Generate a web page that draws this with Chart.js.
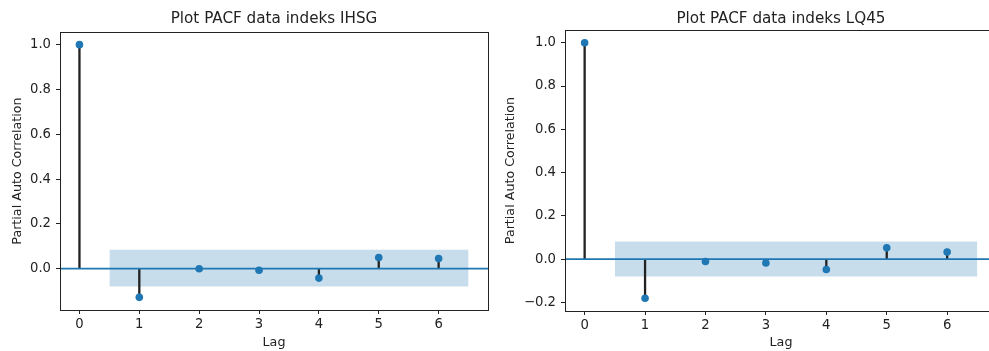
<!DOCTYPE html>
<html>
<head>
<meta charset="utf-8">
<title>Plot PACF IHSG & LQ45</title>
<script src="https://cdn.jsdelivr.net/npm/chart.js@4.4.1/dist/chart.umd.min.js"></script>
<style>
  html, body { margin: 0; padding: 0; background: #fff; overflow: hidden; width: 989px; height: 351px; }
  .panel { position: absolute; top: 0; height: 351px; overflow: hidden; }
  #panel-ihsg { left: 0; width: 495px; }
  #panel-lq45 { left: 495px; width: 494px; }
  canvas { display: block; }
</style>
</head>
<body>
<div class="panel" id="panel-ihsg"><canvas id="pacf-ihsg" width="495" height="351"></canvas></div>
<div class="panel" id="panel-lq45"><canvas id="pacf-lq45" width="515" height="351"></canvas></div>
<script>
// data
const lags = [0, 1, 2, 3, 4, 5, 6];
const xTicks = [0, 1, 2, 3, 4, 5, 6];
const bandLags = [0.5, 6.5];

const pacfIHSG = [1.0, -0.128, 0.0, -0.007, -0.042, 0.050, 0.045];
const confIHSG = [-0.080, 0.084];
const yTicksIHSG = [0.0, 0.2, 0.4, 0.6, 0.8, 1.0];

const pacfLQ45 = [1.0, -0.181, -0.011, -0.018, -0.048, 0.052, 0.033];
const confLQ45 = [-0.080, 0.081];
const yTicksLQ45 = [-0.2, 0.0, 0.2, 0.4, 0.6, 0.8, 1.0];

const C0 = '#1f77b4';
const INK = '#222';
const FONT = { family: 'DejaVu Sans', size: 12.7 };
const TICK_FONT = { family: 'DejaVu Sans', size: 13.2 };
const TITLE_FONT = { family: 'DejaVu Sans', size: 15.2, weight: 'normal', lineHeight: 1.2 };

// matplotlib style 5% margins
function limits(vals) {
  const lo = Math.min(...vals), hi = Math.max(...vals);
  const m = (hi - lo) * 0.05;
  return [lo - m, hi + m];
}

// draw the axes box like matplotlib spines
const framePlugin = {
  id: 'frame',
  afterDatasetsDraw(chart) {
    const { ctx, chartArea: a } = chart;
    ctx.save();
    ctx.strokeStyle = INK;
    ctx.lineWidth = 1;
    ctx.strokeRect(Math.round(a.left) + 0.5, Math.round(a.top) + 0.5,
      Math.round(a.right - a.left), Math.round(a.bottom - a.top));
    ctx.restore();
  }
};

function makePacfChart(canvas, title, values, conf, yTicks, lay) {
  const [xMin, xMax] = limits(lags.concat(bandLags));
  const [yMin, yMax] = limits(values.concat(conf));

  const stems = [];
  lags.forEach((lag, i) => {
    stems.push({ x: lag, y: 0 }, { x: lag, y: values[i] }, { x: lag, y: null });
  });

  return new Chart(canvas, {
    type: 'line',
    data: {
      datasets: [
        { // band top
          data: bandLags.map(x => ({ x, y: conf[1] })),
          borderWidth: 0, pointRadius: 0, fill: '+1',
          backgroundColor: 'rgba(31,119,180,0.25)', order: 5
        },
        { // band bottom
          data: bandLags.map(x => ({ x, y: conf[0] })),
          borderWidth: 0, pointRadius: 0, fill: false, order: 6
        },
        { // stems
          data: stems, borderColor: INK, borderWidth: 2.3, pointRadius: 0,
          spanGaps: false, borderCapStyle: 'butt', fill: false, order: 3
        },
        { // zero line
          data: [{ x: xMin, y: 0 }, { x: xMax, y: 0 }],
          borderColor: C0, borderWidth: 1.7, pointRadius: 0, fill: false, order: 2
        },
        { // markers
          data: lags.map((lag, i) => ({ x: lag, y: values[i] })),
          showLine: false, pointRadius: 3.8, pointBackgroundColor: C0,
          pointBorderWidth: 0, fill: false, order: 1
        }
      ]
    },
    options: {
      responsive: false,
      animation: false,
      devicePixelRatio: 1,
      events: [],
      layout: { padding: { left: 0, right: lay.padRight, top: 0, bottom: 0 } },
      plugins: {
        legend: { display: false },
        tooltip: { enabled: false },
        title: {
          display: true, text: title, color: INK, font: TITLE_FONT,
          fullSize: false, padding: { top: lay.titleTop, bottom: lay.titleBottom }
        }
      },
      scales: {
        x: {
          type: 'linear', min: xMin, max: xMax, offset: false,
          afterBuildTicks: s => { s.ticks = xTicks.map(v => ({ value: v })); },
          afterFit: s => { s.height = lay.xHeight; },
          grid: { display: true, drawOnChartArea: false, drawTicks: true, tickLength: 4, color: INK },
          border: { display: false },
          ticks: { color: INK, font: TICK_FONT, padding: 3, maxRotation: 0, autoSkip: false,
            callback: v => String(v) },
          title: { display: true, text: 'Lag', color: INK, font: FONT, padding: { top: 0, bottom: 0.5 } }
        },
        y: {
          type: 'linear', min: yMin, max: yMax,
          afterBuildTicks: s => { s.ticks = yTicks.map(v => ({ value: v })); },
          afterFit: s => { s.width = lay.yWidth; },
          grid: { display: true, drawOnChartArea: false, drawTicks: true, tickLength: 4, color: INK },
          border: { display: false },
          ticks: { color: INK, font: TICK_FONT, padding: 5, autoSkip: false,
            callback: v => (v < 0 ? '\u2212' : '') + Math.abs(v).toFixed(1) },
          title: { display: true, text: 'Partial Auto Correlation', color: INK, font: FONT,
            padding: { top: lay.yTitlePad, bottom: 0 } }
        }
      }
    },
    plugins: [framePlugin]
  });
}

makePacfChart(document.getElementById('pacf-ihsg'), 'Plot PACF data indeks IHSG',
  pacfIHSG, confIHSG, yTicksIHSG,
  { padRight: 7, yWidth: 60, xHeight: 41, titleTop: 10.2, titleBottom: 3.6, yTitlePad: 10.4 });

// right panel runs past the window edge, as in the reference
makePacfChart(document.getElementById('pacf-lq45'), 'Plot PACF data indeks LQ45',
  pacfLQ45, confLQ45, yTicksLQ45,
  { padRight: 13, yWidth: 70, xHeight: 40, titleTop: 9.9, titleBottom: 1.9, yTitlePad: 8.4 });
</script>
</body>
</html>
